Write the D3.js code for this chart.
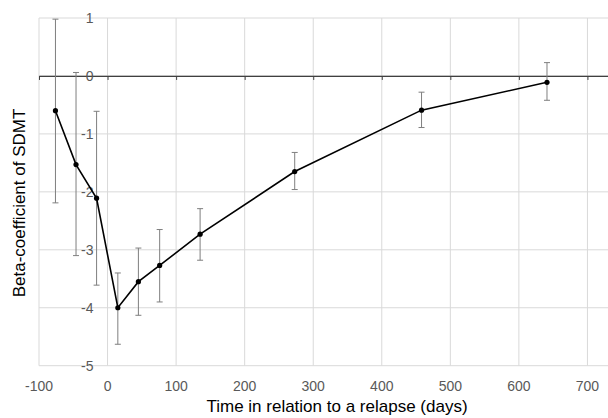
<!DOCTYPE html>
<html>
<head>
<meta charset="utf-8">
<script src="https://cdn.jsdelivr.net/npm/d3@7/dist/d3.min.js"></script>
<style>
	body { margin: 0; background: #fff; }
	svg { display: block; font-family: "Liberation Sans", Arial, sans-serif; }
</style>
</head>
<body>
<div id="chart"></div>
<script>
const days = [-76, -46, -16, 15, 45, 76, 135, 273, 458, 641];
const beta = [-0.60, -1.53, -2.11, -4.00, -3.55, -3.27, -2.73, -1.65, -0.59, -0.11];
const lower = [-2.19, -3.10, -3.61, -4.63, -4.13, -3.90, -3.18, -1.96, -0.89, -0.42];
const upper = [0.98, 0.06, -0.61, -3.40, -2.97, -2.65, -2.29, -1.32, -0.28, 0.23];

const xTicks = [-100, 0, 100, 200, 300, 400, 500, 600, 700, 800];
const yTicks = [1, 0, -1, -2, -3, -4, -5];

const width = 608;
const height = 418;

const x = d3.scaleLinear().domain([-100, 800]).range([39, 656]);
const y = d3.scaleLinear().domain([-5, 1]).range([365.7, 18]);

const points = days.map((d, i) => ({day: d, beta: beta[i], lo: lower[i], hi: upper[i]}));

const svg = d3.select('#chart')
	.append('svg')
	.attr('width', width)
	.attr('height', height);

// grid
svg.append('g')
	.selectAll('line')
	.data(xTicks)
	.enter()
	.append('line')
	.attr('x1', (d)=>x(d)).attr('x2', (d)=>x(d))
	.attr('y1', y(1)).attr('y2', y(-5))
	.attr('stroke', '#d9d9d9')
	.attr('stroke-width', 1);

svg.append('g')
	.selectAll('line')
	.data(yTicks)
	.enter()
	.append('line')
	.attr('x1', x(-100)).attr('x2', x(800))
	.attr('y1', (d)=>y(d)).attr('y2', (d)=>y(d))
	.attr('stroke', '#d9d9d9')
	.attr('stroke-width', 1);

// horizontal axis crossing at zero, ticks pointing down
const xAxis = svg.append('g')
	.attr('transform', `translate(0,${y(0)})`)
	.call(d3.axisBottom(x).tickValues(xTicks).tickSize(4).tickSizeOuter(0).tickFormat(''));
xAxis.select('.domain').attr('stroke', '#404040').attr('stroke-width', 1.3);
xAxis.selectAll('.tick line').attr('stroke', '#404040');

// x tick labels at the bottom
svg.append('g')
	.selectAll('text')
	.data(xTicks.slice(0, -1))
	.enter()
	.append('text')
	.attr('x', (d)=>x(d))
	.attr('y', 391)
	.attr('text-anchor', 'middle')
	.attr('font-size', 14)
	.attr('fill', '#595959')
	.text((d)=>d);

// y tick labels beside the day zero line
svg.append('g')
	.selectAll('text')
	.data(yTicks)
	.enter()
	.append('text')
	.attr('x', x(0) - 14)
	.attr('y', (d)=>y(d))
	.attr('dy', '0.35em')
	.attr('text-anchor', 'end')
	.attr('font-size', 14)
	.attr('fill', '#595959')
	.text((d)=>d);

// error bars
const bars = svg.append('g')
	.attr('stroke', '#7f7f7f')
	.attr('stroke-width', 1)
	.selectAll('g')
	.data(points)
	.enter()
	.append('g');

bars.append('line')
	.attr('x1', (d)=>x(d.day)).attr('x2', (d)=>x(d.day))
	.attr('y1', (d)=>y(d.hi)).attr('y2', (d)=>y(d.lo));
bars.append('line')
	.attr('x1', (d)=>x(d.day) - 3).attr('x2', (d)=>x(d.day) + 3)
	.attr('y1', (d)=>y(d.hi)).attr('y2', (d)=>y(d.hi));
bars.append('line')
	.attr('x1', (d)=>x(d.day) - 3).attr('x2', (d)=>x(d.day) + 3)
	.attr('y1', (d)=>y(d.lo)).attr('y2', (d)=>y(d.lo));

// line and markers
const line = d3.line()
	.x((d)=>x(d.day))
	.y((d)=>y(d.beta));

svg.append('path')
	.datum(points)
	.attr('d', line)
	.attr('fill', 'none')
	.attr('stroke', '#000')
	.attr('stroke-width', 1.6);

svg.append('g')
	.selectAll('circle')
	.data(points)
	.enter()
	.append('circle')
	.attr('cx', (d)=>x(d.day))
	.attr('cy', (d)=>y(d.beta))
	.attr('r', 2.6)
	.attr('fill', '#000');

// axis titles
svg.append('text')
	.attr('x', 337)
	.attr('y', 412)
	.attr('text-anchor', 'middle')
	.attr('font-size', 17)
	.attr('fill', '#000')
	.text('Time in relation to a relapse (days)');

svg.append('text')
	.attr('transform', 'translate(25,203) rotate(-90)')
	.attr('text-anchor', 'middle')
	.attr('font-size', 17)
	.attr('fill', '#000')
	.text('Beta-coefficient of SDMT');
</script>
</body>
</html>
